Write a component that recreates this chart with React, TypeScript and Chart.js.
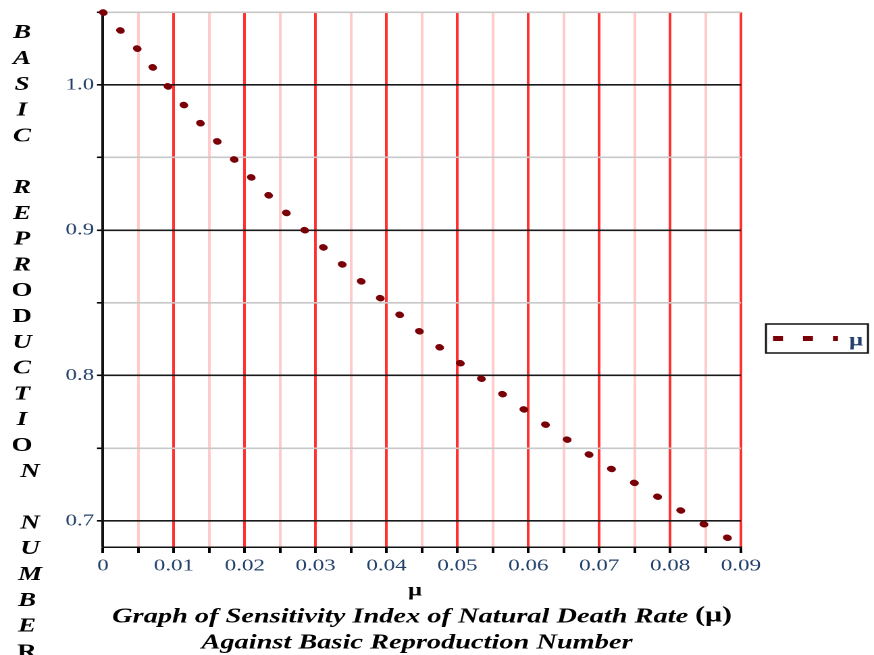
import React, { useEffect, useRef } from "react";
import { Chart, registerables } from "chart.js";

Chart.register(...registerables);

// ---- data ----
const muValues = [0, 0.005, 0.01, 0.015, 0.02, 0.025, 0.03, 0.035, 0.04, 0.045, 0.05, 0.055, 0.06, 0.065, 0.07, 0.075, 0.08, 0.085, 0.09];
const r0Values = [1.05, 1.024, 0.994, 0.967, 0.941, 0.916, 0.893, 0.871, 0.8495, 0.829, 0.81, 0.792, 0.7745, 0.7575, 0.741, 0.726, 0.7115, 0.697, 0.683];
const xTickValues = [0, 0.005, 0.01, 0.015, 0.02, 0.025, 0.03, 0.035, 0.04, 0.045, 0.05, 0.055, 0.06, 0.065, 0.07, 0.075, 0.08, 0.085, 0.09];
const yTickValues = [0.7, 0.75, 0.8, 0.85, 0.9, 0.95, 1.0, 1.05];
const xLabelled = [0, 0.01, 0.02, 0.03, 0.04, 0.05, 0.06, 0.07, 0.08, 0.09];
const yLabelled = [0.7, 0.8, 0.9, 1.0];
const seriesName = "μ";
const xAxisTitle = "μ";
const yAxisLetters = ["B", "A", "S", "I", "C", "", "R", "E", "P", "R", "O", "D", "U", "C", "T", "I", "O", "N", "", "N", "U", "M", "B", "E", "R"];
const captionLine1 = "Graph of Sensitivity Index of Natural Death Rate ";
const captionLine1Tail = "(μ)";
const captionLine2 = "Against Basic Reproduction Number";

// ---- geometry (internal canvas is horizontally stretched by CSS) ----
const CSS_W = 874;
const CSS_H = 655;
const INT_W = 647;
const SX = CSS_W / INT_W;
const rx = (v: number) => v / SX;

const SERIF = "'Liberation Serif', 'Times New Roman', serif";
const DOT = "#7a0008";
const TICK_COLOR = "#22406a";

const near = (a: number, list: number[]) => list.some((b) => Math.abs(a - b) < 1e-6);

const decorPlugin = {
  id: "decor",
  afterDraw(chart: any) {
    const ctx = chart.ctx as CanvasRenderingContext2D;
    ctx.save();
    // vertical stacked y-axis title
    ctx.fillStyle = "#000";
    ctx.textAlign = "center";
    ctx.textBaseline = "middle";
    const upright = new Set([10, 11, 16, 24]);
    yAxisLetters.forEach((ch, i) => {
      if (!ch) return;
      let cx = 22;
      if (i === 17 || i === 19 || i === 20 || i === 21) cx = 30;
      else if (i >= 22) cx = 27;
      ctx.font = (upright.has(i) ? "bold " : "bold italic ") + "20px " + SERIF;
      ctx.fillText(ch, rx(cx), 33 + i * 25.8);
    });

    // x axis title
    ctx.font = "bold 18px " + SERIF;
    ctx.fillStyle = "#000";
    ctx.fillText(xAxisTitle, rx(415), 591);

    // caption line 1
    ctx.textAlign = "left";
    ctx.font = "bold italic 21px " + SERIF;
    const w1 = ctx.measureText(captionLine1).width;
    ctx.font = "bold 22px " + SERIF;
    const w1t = ctx.measureText(captionLine1Tail).width;
    const sx = rx(422) - (w1 + w1t) / 2;
    ctx.font = "bold italic 21px " + SERIF;
    ctx.fillText(captionLine1, sx, 617);
    ctx.font = "bold 22px " + SERIF;
    ctx.fillText(captionLine1Tail, sx + w1, 616);

    // caption line 2
    ctx.textAlign = "center";
    ctx.font = "bold italic 21px " + SERIF;
    ctx.fillText(captionLine2, rx(417), 643);

    // legend
    const lx0 = rx(766), lx1 = rx(868), ly0 = 324, ly1 = 353;
    ctx.lineWidth = 1.5;
    ctx.strokeStyle = "#111";
    ctx.strokeRect(lx0, ly0, lx1 - lx0, ly1 - ly0);
    ctx.beginPath();
    ctx.setLineDash([rx(10), rx(20)]);
    ctx.lineWidth = 5;
    ctx.strokeStyle = DOT;
    ctx.moveTo(rx(773), 338.5);
    ctx.lineTo(rx(838), 338.5);
    ctx.stroke();
    ctx.setLineDash([]);
    ctx.font = "bold 18px " + SERIF;
    ctx.fillStyle = TICK_COLOR;
    ctx.textAlign = "center";
    ctx.fillText(seriesName, rx(856), 341);
    ctx.restore();
  },
};

export default function App() {
  const ref = useRef<HTMLCanvasElement | null>(null);
  useEffect(() => {
    if (!ref.current) return;
    const chart = new Chart(ref.current, {
      type: "line",
      data: {
        datasets: [
          {
            label: seriesName,
            data: muValues.map((x, i) => ({ x, y: r0Values[i] })),
            borderColor: DOT,
            borderWidth: 6,
            borderDash: [0.8, 21.2],
            borderCapStyle: "round",
            cubicInterpolationMode: "monotone",
            pointRadius: 0,
            fill: false,
            clip: false as any,
          },
        ],
      },
      options: {
        animation: false,
        responsive: false,
        devicePixelRatio: 2,
        layout: { padding: { left: 0, top: 11, right: INT_W - rx(741), bottom: 0 } },
        plugins: { legend: { display: false }, tooltip: { enabled: false } },
        scales: {
          x: {
            type: "linear",
            min: 0,
            max: 0.09,
            afterBuildTicks: (scale: any) => {
              scale.ticks = xTickValues.map((v) => ({ value: v }));
            },
            afterFit: (scale: any) => {
              scale.height = CSS_H - 547;
            },
            ticks: {
              autoSkip: false,
              maxRotation: 0,
              padding: 3,
              color: TICK_COLOR,
              font: { family: SERIF, size: 17 },
              callback: (v: any) => {
                const n = Number(v);
                if (!near(n, xLabelled)) return "";
                return n === 0 ? "0" : n.toFixed(2);
              },
            },
            grid: {
              color: (c: any) => {
                const v = c.tick ? c.tick.value : 0;
                return near(v, xLabelled) ? "#ff3030" : "#ffcaca";
              },
              lineWidth: 2,
              tickColor: "#000",
              tickLength: 6,
              drawOnChartArea: true,
            },
            border: { display: true, color: "#111", width: 1.5 },
          },
          y: {
            type: "linear",
            min: 0.682,
            max: 1.05,
            afterBuildTicks: (scale: any) => {
              scale.ticks = yTickValues.map((v) => ({ value: v }));
            },
            afterFit: (scale: any) => {
              scale.width = rx(103);
            },
            ticks: {
              autoSkip: false,
              padding: 2,
              color: TICK_COLOR,
              font: { family: SERIF, size: 17 },
              callback: (v: any) => {
                const n = Number(v);
                return near(n, yLabelled) ? n.toFixed(1) : "";
              },
            },
            grid: {
              color: (c: any) => {
                const v = c.tick ? c.tick.value : 0;
                return near(v, yLabelled) ? "#1a1a1a" : "#c8c8c8";
              },
              lineWidth: 1.6,
              tickColor: "#000",
              tickLength: rx(6),
            },
            border: { display: true, color: "#111", width: 2 },
          },
        },
      },
      plugins: [decorPlugin],
    } as any);
    return () => chart.destroy();
  }, []);

  return (
    <canvas
      ref={ref}
      width={INT_W}
      height={CSS_H}
      style={{ position: "absolute", left: 0, top: 0, width: CSS_W + "px", height: CSS_H + "px", display: "block", background: "#fff" }}
    />
  );
}
